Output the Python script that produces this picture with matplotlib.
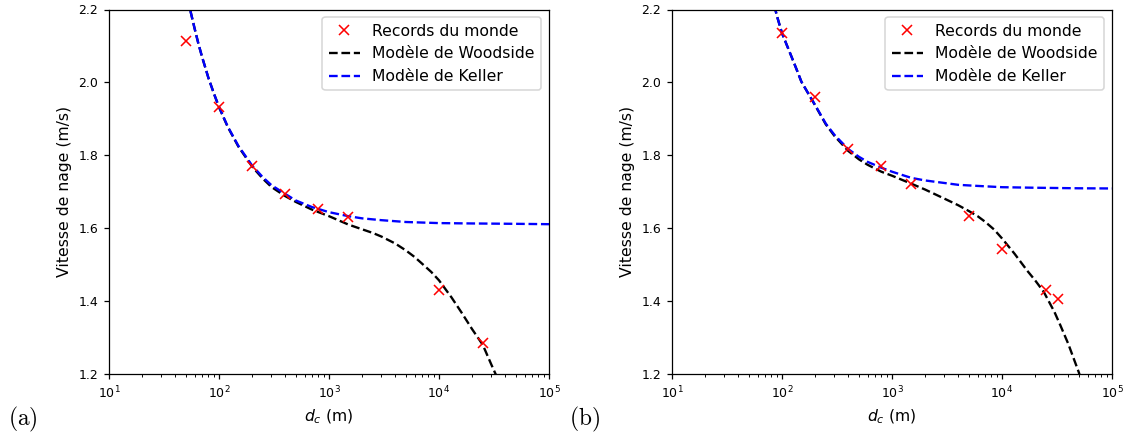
import matplotlib
matplotlib.use("Agg")
import matplotlib.pyplot as plt

# ---- (a) data ----
rec_d_a = [50, 100, 200, 400, 800, 1500, 10000, 25000]
rec_v_a = [2.114, 1.933, 1.771, 1.695, 1.652, 1.630, 1.430, 1.284]

keller_d_a = [55, 60, 65, 70, 80, 90, 100, 120, 150, 200, 250, 300, 400, 500, 700,
              1000, 1500, 2000, 3000, 5000, 10000, 20000, 50000, 100000]
keller_v_a = [2.196, 2.148, 2.106, 2.071, 2.013, 1.969, 1.933, 1.879, 1.826, 1.772,
              1.740, 1.718, 1.694, 1.676, 1.658, 1.644, 1.633, 1.627, 1.622, 1.617,
              1.614, 1.613, 1.612, 1.611]

wood_d_a = [55, 60, 65, 70, 80, 90, 100, 120, 150, 200, 250, 300, 400, 500, 700,
            1000, 1500, 2000, 2500, 3000, 4000, 5000, 6000, 7000, 8500, 10000, 13000,
            16000, 20000, 25000, 30000, 35000]
wood_v_a = [2.196, 2.148, 2.106, 2.071, 2.013, 1.969, 1.932, 1.878, 1.824, 1.769,
            1.736, 1.713, 1.688, 1.672, 1.651, 1.633, 1.610, 1.597, 1.587, 1.577,
            1.558, 1.539, 1.521, 1.503, 1.480, 1.457, 1.410, 1.369, 1.323, 1.280,
            1.225, 1.180]

# ---- (b) data ----
rec_d_b = [100, 200, 400, 800, 1500, 5000, 10000, 25000, 32000]
rec_v_b = [2.135, 1.961, 1.817, 1.771, 1.720, 1.634, 1.544, 1.430, 1.406]

keller_d_b = [85, 90, 100, 120, 136, 150, 200, 250, 300, 400, 500, 600, 800, 1000,
              1500, 2000, 3000, 4000, 6000, 10000, 20000, 50000, 100000]
keller_v_b = [2.212, 2.182, 2.135, 2.076, 2.035, 2.002, 1.938, 1.887, 1.856, 1.817,
              1.796, 1.782, 1.766, 1.755, 1.738, 1.731, 1.724, 1.719, 1.716, 1.7125,
              1.711, 1.7095, 1.709]

wood_d_b = [85, 90, 100, 120, 136, 150, 200, 250, 300, 400, 500, 600, 800, 1000,
            1500, 2000, 3000, 4000, 5000, 6000, 7000, 8500, 10000, 13000, 17000,
            20000, 24000, 30000, 34000, 40000, 50000, 53000]
wood_v_b = [2.212, 2.182, 2.135, 2.076, 2.035, 2.002, 1.937, 1.885, 1.853, 1.812,
            1.789, 1.774, 1.755, 1.744, 1.722, 1.706, 1.681, 1.663, 1.647, 1.633,
            1.618, 1.596, 1.572, 1.530, 1.483, 1.457, 1.425, 1.370, 1.333, 1.283,
            1.204, 1.180]

yticks = [1.2, 1.4, 1.6, 1.8, 2.0, 2.2]

DPI = 112.5
fig = plt.figure(figsize=(1125 / DPI, 433 / DPI), dpi=DPI)
ax1 = fig.add_axes([109 / 1125, 1 - 374 / 433, 440 / 1125, 364.5 / 433])
ax2 = fig.add_axes([672 / 1125, 1 - 374 / 433, 440 / 1125, 364.5 / 433])

panels = [
    (ax1, rec_d_a, rec_v_a, wood_d_a, wood_v_a, keller_d_a, keller_v_a),
    (ax2, rec_d_b, rec_v_b, wood_d_b, wood_v_b, keller_d_b, keller_v_b),
]
for ax, rd, rv, wd, wv, kd, kv in panels:
    ax.plot(rd, rv, 'x', color='red', markersize=6, label='Records du monde', zorder=3)
    ax.plot(wd, wv, '--', color='black', linewidth=1.5, label='Modèle de Woodside')
    ax.plot(kd, kv, '--', color='blue', linewidth=1.5, label='Modèle de Keller')
    ax.set_xscale('log')
    ax.set_xlim(10, 1e5)
    ax.set_ylim(1.2, 2.2)
    ax.set_yticks(yticks)
    ax.tick_params(axis='both', which='major', labelsize=8)
    ax.set_xlabel(r'$d_c$ (m)', fontsize=10)
    ax.set_ylabel('Vitesse de nage (m/s)', fontsize=10)
    ax.legend(loc='upper right', fontsize=10)

fig.text(22.5 / 1125, 1 - 419 / 433, r'$\mathrm{(a)}$', fontsize=15, ha='center', va='center',
         math_fontfamily='cm')
fig.text(584 / 1125, 1 - 419 / 433, r'$\mathrm{(b)}$', fontsize=15, ha='center', va='center',
         math_fontfamily='cm')

fig.savefig('out.png', dpi=DPI)
